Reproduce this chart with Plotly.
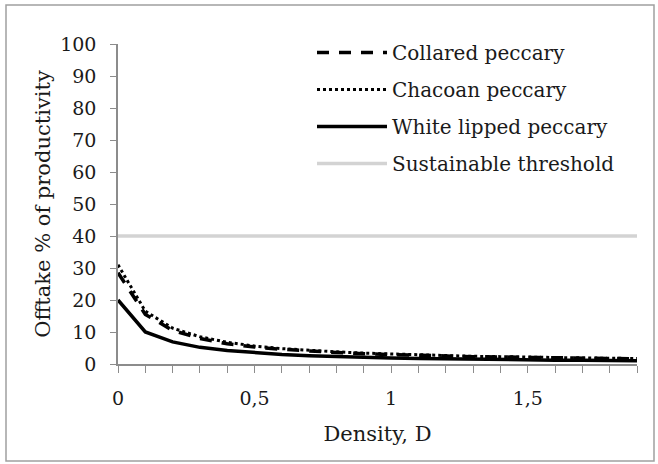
import plotly.graph_objects as go

density = [0.0, 0.1, 0.2, 0.3, 0.4, 0.5, 0.6, 0.7, 0.8, 0.9,
           1.0, 1.1, 1.2, 1.3, 1.4, 1.5, 1.6, 1.7, 1.8, 1.9]
collared = [28.5, 15.5, 10.5, 8.0, 6.3, 5.3, 4.6, 4.0, 3.6, 3.2,
            2.9, 2.7, 2.5, 2.3, 2.2, 2.0, 1.9, 1.8, 1.7, 1.6]
chacoan = [31.0, 16.5, 11.2, 8.5, 6.8, 5.6, 4.8, 4.2, 3.8, 3.4,
           3.1, 2.8, 2.6, 2.4, 2.3, 2.1, 2.0, 1.9, 1.8, 1.7]
white_lipped = [20.0, 10.0, 6.9, 5.2, 4.2, 3.5, 3.0, 2.6, 2.3, 2.1,
                1.9, 1.75, 1.6, 1.5, 1.4, 1.3, 1.2, 1.15, 1.1, 1.0]
threshold = [40.0] * len(density)

x_tickvals = [0, 0.5, 1, 1.5]
x_ticktext = ["0", "0,5", "1", "1,5"]
y_tickvals = [0, 10, 20, 30, 40, 50, 60, 70, 80, 90, 100]

FONT = "DejaVu Serif"
TXT = "#1a1a1a"

fig = go.Figure()
fig.add_trace(go.Scatter(x=density, y=collared, mode="lines", name="Collared peccary",
                         legendgroup="a",
                         line=dict(color="black", width=3.5, dash="12px,10px")))
fig.add_trace(go.Scatter(x=density, y=chacoan, mode="lines", name="Chacoan peccary",
                         legendgroup="b",
                         line=dict(color="black", width=3, dash="dot")))
fig.add_trace(go.Scatter(x=density, y=white_lipped, mode="lines", name="White lipped peccary",
                         legendgroup="c",
                         line=dict(color="black", width=3.5)))
fig.add_trace(go.Scatter(x=density, y=threshold, mode="lines", name="Sustainable threshold",
                         legendgroup="d",
                         line=dict(color="#d3d3d3", width=3.5)))

L, R, T, B = 118, 21, 44, 100
W, H = 658, 464
pw, ph = W - L - R, H - T - B

def px_x(p):
    return (p - L) / pw

def px_y(p):
    return (H - B - p) / ph

fig.update_layout(
    width=W, height=H,
    margin=dict(l=L, r=R, t=T, b=B),
    paper_bgcolor="white", plot_bgcolor="white",
    font=dict(family=FONT, size=18, color=TXT),
    showlegend=True,
    legend=dict(x=px_x(312), y=px_y(33), xanchor="left", yanchor="top",
                bgcolor="rgba(0,0,0,0)", font=dict(size=20, family=FONT, color=TXT),
                itemwidth=70, tracegroupgap=8),
    xaxis=dict(range=[0, 1.9], tickvals=x_tickvals, ticktext=x_ticktext,
               showgrid=False, zeroline=False, showline=True, linecolor="#8c8c8c",
               linewidth=1.5, ticks="outside", ticklen=7, tickcolor="#8c8c8c",
               ticklabelstandoff=9,
               tickfont=dict(size=19, family=FONT, color=TXT),
               minor=dict(dtick=0.1, ticks="outside", ticklen=7, tickcolor="#8c8c8c",
                          showgrid=False),
               title=dict(text="Density, D", font=dict(size=21, family=FONT, color=TXT),
                          standoff=19)),
    yaxis=dict(range=[0, 100], tickvals=y_tickvals, showgrid=False, zeroline=False,
               showline=True, linecolor="#8c8c8c", linewidth=1.5, ticks="outside",
               ticklen=6, tickcolor="#8c8c8c", ticklabelstandoff=10,
               tickfont=dict(size=19, family=FONT, color=TXT),
               title=dict(text="Offtake % of productivity",
                          font=dict(size=21, family=FONT, color=TXT), standoff=4)),
    shapes=[dict(type="rect", xref="paper", yref="paper",
                 x0=px_x(6), x1=px_x(654), y0=px_y(461), y1=px_y(5),
                 line=dict(color="#a0a0a0", width=1.5), fillcolor="rgba(0,0,0,0)",
                 layer="below")],
)

fig.write_html("out.html", config={"displayModeBar": False})

with open("out.html", "r", encoding="utf-8") as f:
    html = f.read()
html = html.replace("<body>", '<body style="margin:0;padding:0;">', 1)
with open("out.html", "w", encoding="utf-8") as f:
    f.write(html)
